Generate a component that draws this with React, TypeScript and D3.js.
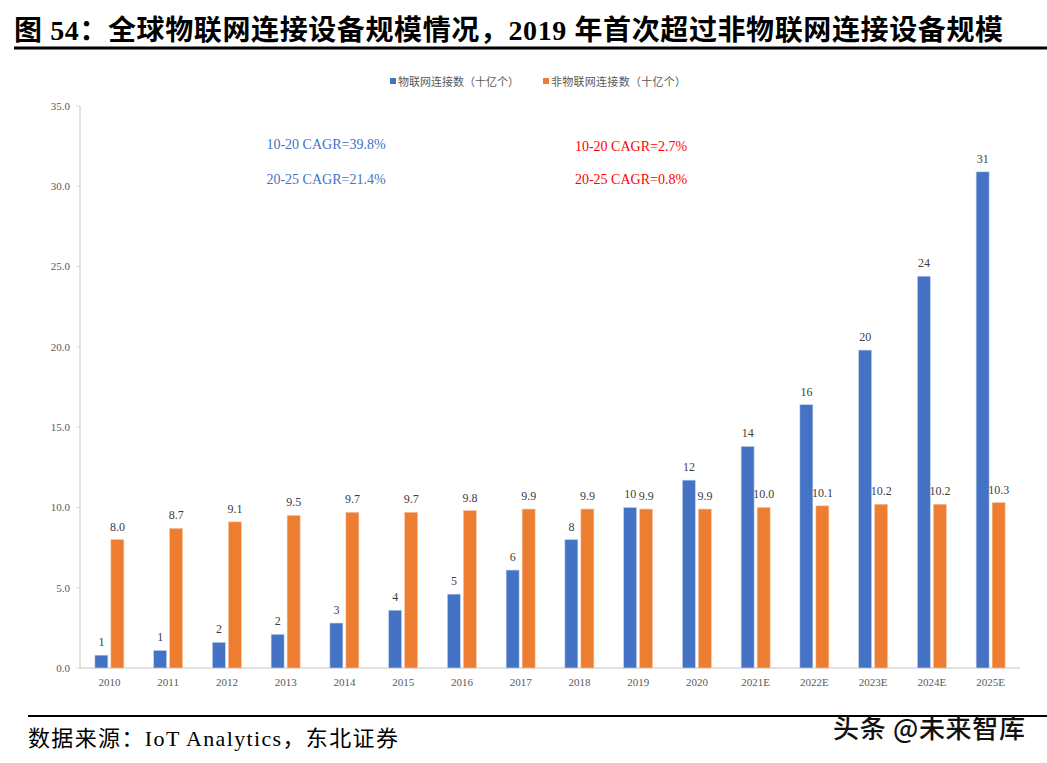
import React from 'react';
import * as d3 from 'd3';

const categories = ['2010', '2011', '2012', '2013', '2014', '2015', '2016', '2017', '2018', '2019', '2020', '2021E', '2022E', '2023E', '2024E', '2025E'];
const iotValues = [0.8, 1.1, 1.6, 2.1, 2.8, 3.6, 4.6, 6.1, 8.0, 10.0, 11.7, 13.8, 16.4, 19.8, 24.4, 30.9];
const iotLabels = ['1', '1', '2', '2', '3', '4', '5', '6', '8', '10', '12', '14', '16', '20', '24', '31'];
const nonIotValues = [8.0, 8.7, 9.1, 9.5, 9.7, 9.7, 9.8, 9.9, 9.9, 9.9, 9.9, 10.0, 10.1, 10.2, 10.2, 10.3];
const yTicks = [0, 5, 10, 15, 20, 25, 30, 35];
const seriesNames = ['物联网连接数（十亿个）', '非物联网连接数（十亿个）'];
const blueNotes = ['10-20 CAGR=39.8%', '20-25 CAGR=21.4%'];
const redNotes = ['10-20 CAGR=2.7%', '20-25 CAGR=0.8%'];

const width = 1047;
const height = 763;
const marginLeft = 80;
const marginRight = 27;
const plotTop = 106;
const plotBottom = 668;

const BLUE = '#4472C4';
const ORANGE = '#ED7D31';
const serif = '"Liberation Serif", "Times New Roman", "Noto Sans CJK SC", serif';
const cjk = '"Liberation Serif", "Noto Sans CJK SC", serif';

export default function App() {
  const x = d3.scaleBand().domain(categories).range([marginLeft, width - marginRight]);
  const y = d3.scaleLinear().domain([0, 35]).range([plotBottom, plotTop]);
  const barW = 13;
  const gap = 3;

  return (
    <svg width={width} height={height} viewBox={`0 0 ${width} ${height}`}
      style={{ position: 'absolute', left: 0, top: 0, background: '#fff' }}>
      {/* title */}
      <text x={14} y={40} fontFamily={cjk} fontWeight="bold" fontSize={28} fill="#000"
        textLength={989} lengthAdjust="spacing">
        图 54：全球物联网连接设备规模情况，2019 年首次超过非物联网连接设备规模
      </text>
      <line x1={14} x2={width} y1={48} y2={48} stroke="#000" strokeWidth={3} />

      {/* legend */}
      <g fontFamily={cjk} fontSize={11} fill="#595959">
        <rect x={390} y={78} width={6} height={6} fill={BLUE} />
        <text x={398} y={86} textLength={121} lengthAdjust="spacing">{seriesNames[0]}</text>
        <rect x={543} y={78} width={6} height={6} fill={ORANGE} />
        <text x={551} y={86} textLength={135} lengthAdjust="spacing">{seriesNames[1]}</text>
      </g>

      {/* y axis */}
      <line x1={marginLeft} x2={marginLeft} y1={plotTop} y2={plotBottom} stroke="#d9d9d9" strokeWidth={1.5} />
      {yTicks.map(t => (
        <g key={t}>
          <line x1={marginLeft - 4} x2={marginLeft} y1={y(t)} y2={y(t)} stroke="#d9d9d9" />
          <text x={marginLeft - 10} y={y(t)} dy="0.35em" textAnchor="end" fontFamily={serif} fontSize={11} fill="#595959">
            {t.toFixed(1)}
          </text>
        </g>
      ))}

      {/* x axis */}
      <line x1={marginLeft} x2={width - marginRight} y1={plotBottom} y2={plotBottom} stroke="#d9d9d9" strokeWidth={1.5} />
      {categories.map(c => (
        <text key={c} x={(x(c) as number) + x.bandwidth() / 2} y={plotBottom + 18} textAnchor="middle"
          fontFamily={serif} fontSize={11} fill="#595959">{c}</text>
      ))}

      {/* bars */}
      {categories.map((c, i) => {
        const cx = (x(c) as number) + x.bandwidth() / 2;
        const bx = cx - gap / 2 - barW;
        const ox = cx + gap / 2;
        return (
          <g key={c}>
            <rect x={bx} y={y(iotValues[i])} width={barW} height={plotBottom - y(iotValues[i])}
              fill={BLUE} stroke="#c9d6ee" strokeWidth={0.6} />
            <rect x={ox} y={y(nonIotValues[i])} width={barW} height={plotBottom - y(nonIotValues[i])}
              fill={ORANGE} stroke="#f8c9a8" strokeWidth={0.6} />
            <text x={bx + barW / 2} y={y(iotValues[i]) - 9} textAnchor="middle" fontFamily={serif} fontSize={12} fill="#404040">
              {iotLabels[i]}
            </text>
            <text x={ox + barW / 2} y={y(nonIotValues[i]) - 9} textAnchor="middle" fontFamily={serif} fontSize={12} fill="#404040">
              {nonIotValues[i].toFixed(1)}
            </text>
          </g>
        );
      })}

      {/* CAGR notes */}
      <g fontFamily={serif} fontSize={14} textAnchor="middle">
        <text x={326} y={149} fill={BLUE}>{blueNotes[0]}</text>
        <text x={326} y={184} fill={BLUE}>{blueNotes[1]}</text>
        <text x={631} y={151} fill="#FF0000">{redNotes[0]}</text>
        <text x={631} y={184} fill="#FF0000">{redNotes[1]}</text>
      </g>

      {/* footer */}
      <line x1={28} x2={width} y1={716} y2={716} stroke="#000" strokeWidth={2} />
      <text x={28} y={746} fontFamily={cjk} fontSize={22} fill="#000" textLength={370} lengthAdjust="spacing">
        数据来源：IoT Analytics，东北证券
      </text>
      <text x={833} y={738} fontFamily='"Noto Sans CJK SC", sans-serif' fontSize={26} fontWeight={500} fill="#111"
        textLength={192} lengthAdjust="spacing">
        头条 @未来智库
      </text>
    </svg>
  );
}
